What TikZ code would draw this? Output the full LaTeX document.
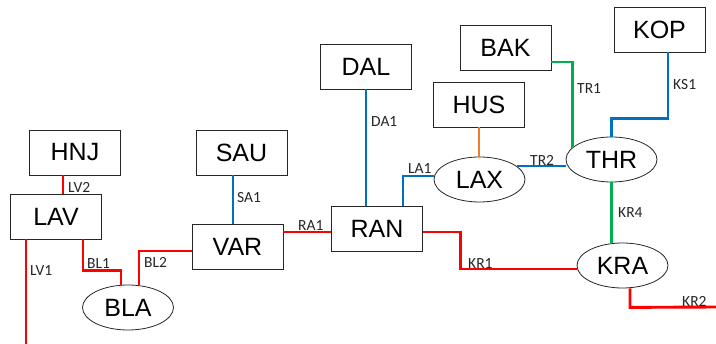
\documentclass[tikz,border=0pt]{standalone}
\usepackage{fontspec}
\setmainfont{Liberation Sans}
\newfontfamily\lblfont{Carlito}
\usetikzlibrary{shapes.geometric,calc}
\definecolor{lnred}{RGB}{255,0,0}
\definecolor{lnblue}{RGB}{0,112,192}
\definecolor{lngreen}{RGB}{0,176,80}
\definecolor{lnorange}{RGB}{237,125,49}
\tikzset{
  boxnode/.style={draw=black!85, line width=0.8pt, rectangle, minimum width=91pt, minimum height=45pt, inner sep=0pt, font=\fontsize{25}{25}\selectfont},
  ellnode/.style={draw=black!85, line width=0.8pt, ellipse, minimum width=91pt, minimum height=45pt, inner sep=0pt, font=\fontsize{25}{25}\selectfont},
  wire/.style={line width=2.9pt},
  redwire/.style={wire, lnred},
  bluewire/.style={wire, lnblue},
  greenwire/.style={wire, lngreen},
  orangewire/.style={wire, lnorange},
  lbl/.style={anchor=west, inner sep=0pt, font=\lblfont\fontsize{15.5}{15.5}\selectfont, text=black!85}
}
\begin{document}
\begin{tikzpicture}[x=1pt,y=-1pt]
\useasboundingbox (0,0) rectangle (716,344);
% nodes
\node[boxnode] (HNJ) at (75,152.5) {HNJ};
\node[boxnode] (LAV) at (56,216.5) {LAV};
\node[boxnode] (SAU) at (241.5,152.5) {SAU};
\node[boxnode] (VAR) at (237.5,246.5) {VAR};
\node[boxnode] (RAN) at (377,228.5) {RAN};
\node[boxnode] (DAL) at (366,66.5) {DAL};
\node[boxnode] (BAK) at (505.5,47.5) {BAK};
\node[boxnode] (HUS) at (479,104.5) {HUS};
\node[boxnode] (KOP) at (659.5,29.5) {KOP};
\node[ellnode] (BLA) at (128,307.5) {BLA};
\node[ellnode] (LAX) at (479.5,179.5) {LAX};
\node[ellnode] (THR) at (611.5,159.5) {THR};
\node[ellnode] (KRA) at (622.5,265.5) {KRA};
\coordinate (lv1end) at (26,346);
\coordinate (kr2end) at (718,307);
% connectors
\draw[redwire] ([xshift=-12pt]HNJ.south) -- ([xshift=-12pt]HNJ.south |- LAV.north);
\draw[redwire] ([xshift=-30pt]LAV.south) -- (lv1end);
\draw[redwire] ([xshift=27pt]LAV.south) -- ++(0,31) -| ([xshift=-7pt]BLA.north);
\draw[redwire] ([xshift=11pt]BLA.north) |- ([yshift=-4.5pt]VAR.west);
\draw[bluewire] ([xshift=-8.5pt]SAU.south) -- ([xshift=-8.5pt]SAU.south |- VAR.north);
\draw[redwire] ([yshift=14.5pt]VAR.east) -- ([yshift=14.5pt]VAR.east -| RAN.west);
\draw[bluewire] (DAL.south) -- (DAL.south |- RAN.north);
\draw[bluewire] ([xshift=26pt]RAN.north) |- ([yshift=3.5pt]LAX.west);
\draw[orangewire] (HUS.south) -- (HUS.south |- LAX.north);
\draw[bluewire] (LAX.20) -- (LAX.20 -| THR.west);
\draw[greenwire] ([yshift=-14.5pt]BAK.east) -| (THR.163);
\draw[bluewire] ([xshift=8.5pt]KOP.south) -- ++(0,66) -| (THR.north);
\draw[greenwire] (THR.south) -- (THR.south |- KRA.north);
\draw[redwire] ([yshift=-3.5pt]RAN.east) -- ++(38,0) |- ([yshift=-3.5pt]KRA.west);
\draw[redwire] ([xshift=7.5pt]KRA.south) -- ++(0,19) -- (kr2end);
% labels
\node[lbl] (lLV2) at (68,187) {LV2};
\node[lbl] (lLV1) at (30,271) {LV1};
\node[lbl] (lBL1) at (87,264) {BL1};
\node[lbl] (lBL2) at (144,262) {BL2};
\node[lbl] (lSA1) at (237,197.5) {SA1};
\node[lbl] (lRA1) at (298,226) {RA1};
\node[lbl] (lDA1) at (371,122) {DA1};
\node[lbl] (lLA1) at (408,169) {LA1};
\node[lbl] (lTR2) at (530,160.5) {TR2};
\node[lbl] (lTR1) at (577,89) {TR1};
\node[lbl] (lKS1) at (673,84.5) {KS1};
\node[lbl] (lKR4) at (618,213) {KR4};
\node[lbl] (lKR1) at (468,264) {KR1};
\node[lbl] (lKR2) at (682,301) {KR2};
\end{tikzpicture}
\end{document}
